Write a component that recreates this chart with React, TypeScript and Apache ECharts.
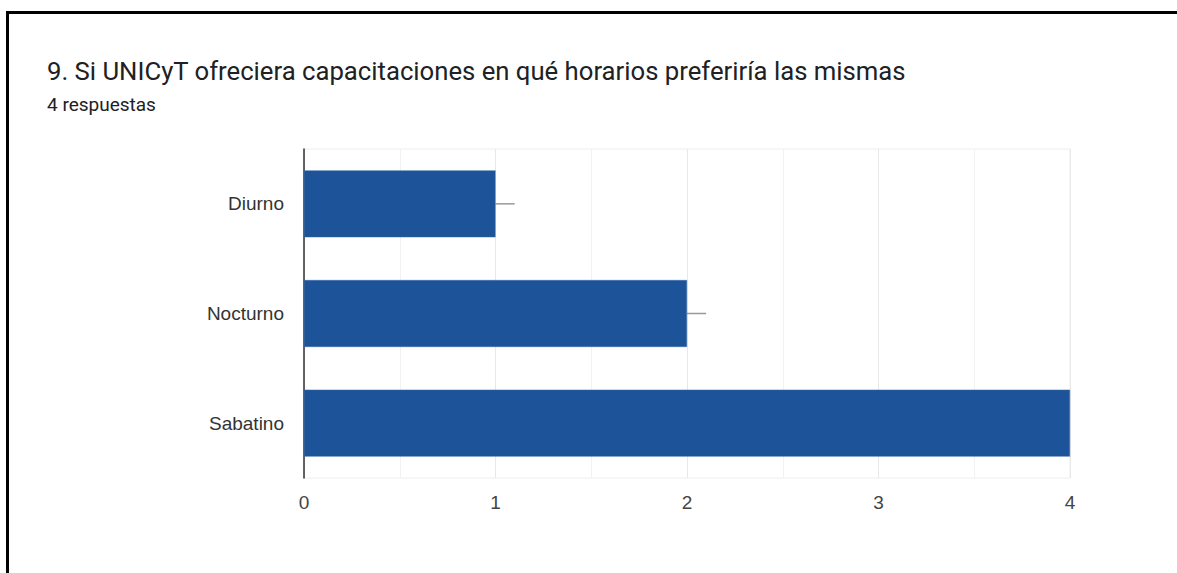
import React, { useEffect, useRef } from "react";
import * as echarts from "echarts";

const categories = ["Diurno", "Nocturno", "Sabatino"];
const counts = [1, 2, 4];
const xTicks = [0, 1, 2, 3, 4];
const titleText = "9. Si UNICyT ofreciera capacitaciones en qué horarios preferiría las mismas";
const subtitleText = "4 respuestas";
const whiskerLength = 0.1;

export default function App() {
  const ref = useRef<HTMLDivElement>(null);
  useEffect(() => {
    if (!ref.current) return;
    const chart = echarts.init(ref.current, undefined, { renderer: "svg" });
    chart.setOption({
      animation: false,
      backgroundColor: "#ffffff",
      graphic: [
        {
          type: "rect",
          shape: { x: 7.5, y: 12.5, width: 1300, height: 700 },
          style: { fill: "none", stroke: "#000000", lineWidth: 3 },
          silent: true,
        },
        {
          type: "text",
          x: 47,
          y: 71,
          style: {
            text: titleText,
            fontFamily: "Roboto",
            fontSize: 25.7,
            fill: "#202124",
            verticalAlign: "middle",
          },
        },
        {
          type: "text",
          x: 47,
          y: 104,
          style: {
            text: subtitleText,
            fontFamily: "Roboto",
            fontSize: 19,
            fill: "#202124",
            verticalAlign: "middle",
          },
        },
      ],
      grid: {
        left: 304,
        top: 149,
        right: 107,
        bottom: 95,
        show: true,
        borderColor: "#eeeeee",
        borderWidth: 1,
      },
      xAxis: {
        type: "value",
        min: 0,
        max: 4,
        interval: 1,
        axisLine: { show: false },
        axisTick: { show: false },
        splitLine: { show: true, lineStyle: { color: "#e8e8e8", width: 1 } },
        minorTick: { show: false, splitNumber: 2 },
        minorSplitLine: { show: true, lineStyle: { color: "#f2f2f2", width: 1 } },
        axisLabel: {
          margin: 15,
          fontFamily: "Liberation Sans",
          fontSize: 19,
          color: "#444444",
          formatter: (v: number) => (xTicks.includes(v) ? String(v) : ""),
        },
      },
      yAxis: {
        type: "category",
        data: categories,
        inverse: true,
        axisLine: { show: true, lineStyle: { color: "#333333", width: 1.5 } },
        axisTick: { show: false },
        splitLine: { show: false },
        axisLabel: {
          margin: 20,
          fontFamily: "Liberation Sans",
          fontSize: 19,
          color: "#333333",
        },
      },
      series: [
        {
          type: "bar",
          data: counts,
          barCategoryGap: "39%",
          itemStyle: { color: "#1d5399", borderColor: "#3a6aab", borderWidth: 0.5 },
          z: 2,
        },
        {
          type: "custom",
          clip: true,
          z: 1,
          data: counts.map((v, i) => [v, i]),
          renderItem: (params: any, api: any) => {
            const v = api.value(0);
            const idx = api.value(1);
            const p1 = api.coord([v, idx]);
            const p2 = api.coord([v + whiskerLength, idx]);
            return {
              type: "line",
              shape: { x1: p1[0], y1: p1[1], x2: p2[0], y2: p2[1] },
              style: { stroke: "#999999", lineWidth: 1.5 },
            };
          },
        },
      ],
    });
    return () => chart.dispose();
  }, []);
  return (
    <div
      ref={ref}
      style={{ position: "absolute", left: 0, top: 0, width: 1177, height: 573 }}
    />
  );
}
